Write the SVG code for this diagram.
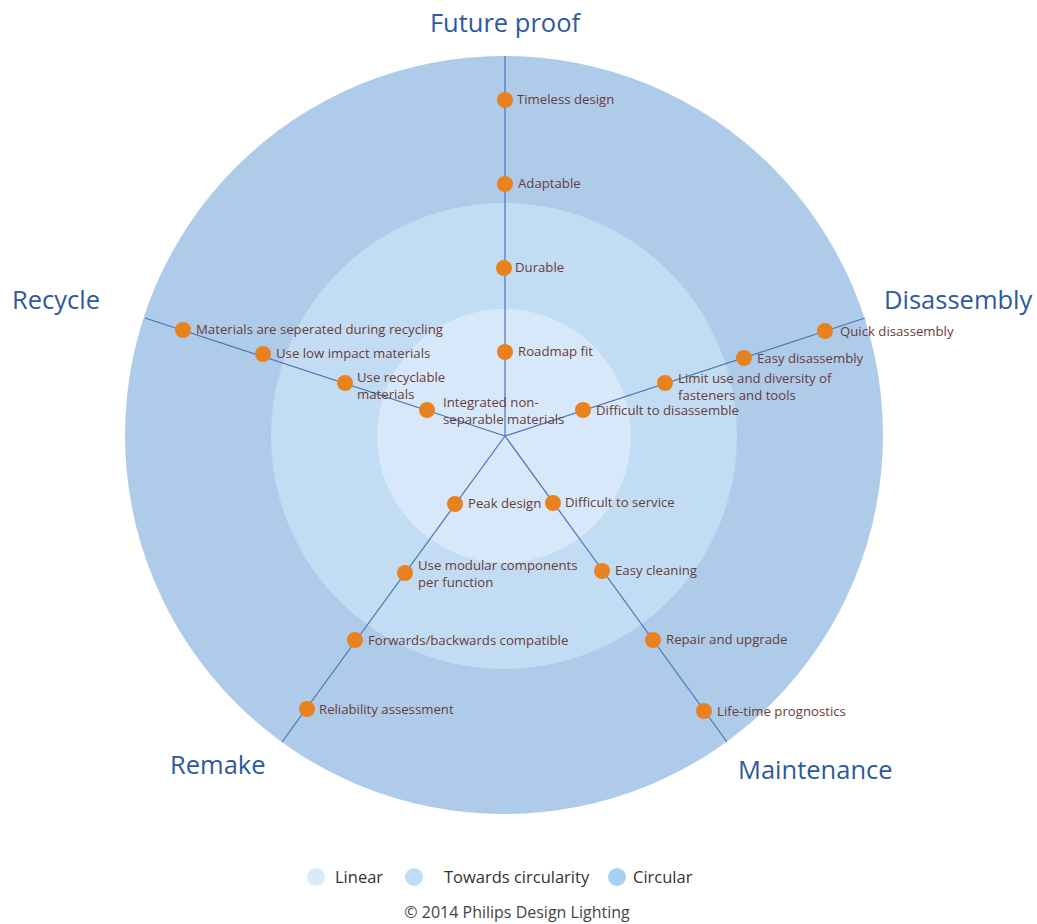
<svg xmlns="http://www.w3.org/2000/svg" width="1037" height="924" viewBox="0 0 1037 924">
<style>
.h{font-family:"Open Sans","Liberation Sans",sans-serif;font-size:25.5px;fill:#2E5A9C}
.t{font-family:"Open Sans","Liberation Sans",sans-serif;font-size:13.2px;fill:#6A3C3A}
.lg{font-family:"Open Sans","Liberation Sans",sans-serif;font-size:16.5px;fill:#333}
.d{fill:#E8821E}
.sp{stroke:#4A74B8;stroke-width:1.2;fill:none}
</style>
<rect width="1037" height="924" fill="#fff"/>
<g id="rings">
<circle cx="504" cy="435" r="379" fill="#AECBEA"/>
<circle cx="504" cy="436" r="233" fill="#C2DCF3"/>
<circle cx="504" cy="436" r="127" fill="#D6E8F9"/>
</g>
<g id="connectors">
<line class="sp" x1="505" y1="56" x2="505" y2="436"/>
<line class="sp" x1="145" y1="318" x2="505" y2="436"/>
<line class="sp" x1="865" y1="318" x2="505" y2="436"/>
<line class="sp" x1="282" y1="742" x2="505" y2="436"/>
<line class="sp" x1="727" y1="742" x2="505" y2="436"/>
</g>
<g id="headings">
<text class="h" x="505" y="32" text-anchor="middle">Future proof</text>
<text class="h" x="12" y="309">Recycle</text>
<text class="h" x="884" y="309">Disassembly</text>
<text class="h" x="170" y="774">Remake</text>
<text class="h" x="738" y="779">Maintenance</text>
</g>
<g id="future-proof">
<g id="n-timeless"><circle class="d" cx="505" cy="100" r="8"/><text class="t" x="517" y="104">Timeless design</text></g>
<g id="n-adaptable"><circle class="d" cx="505" cy="184" r="8"/><text class="t" x="518" y="188">Adaptable</text></g>
<g id="n-durable"><circle class="d" cx="504" cy="268" r="8"/><text class="t" x="515" y="272">Durable</text></g>
<g id="n-roadmap"><circle class="d" cx="505" cy="352" r="8"/><text class="t" x="518" y="356">Roadmap fit</text></g>
</g>
<g id="recycle">
<g id="n-separated"><circle class="d" cx="183" cy="330" r="8"/><text class="t" x="196" y="334">Materials are seperated during recycling</text></g>
<g id="n-lowimpact"><circle class="d" cx="263" cy="354" r="8"/><text class="t" x="276" y="358">Use low impact materials</text></g>
<g id="n-recyclable"><circle class="d" cx="345" cy="383" r="8"/><text class="t" x="357" y="382">Use recyclable<tspan x="357" dy="17">materials</tspan></text></g>
<g id="n-integrated"><circle class="d" cx="427" cy="410" r="8"/><text class="t" x="443" y="407">Integrated non-<tspan x="443" dy="17">separable materials</tspan></text></g>
</g>
<g id="disassembly">
<g id="n-difficult-dis"><circle class="d" cx="583" cy="410" r="8"/><text class="t" x="596" y="415">Difficult to disassemble</text></g>
<g id="n-limit"><circle class="d" cx="665" cy="383" r="8"/><text class="t" x="678" y="383">Limit use and diversity of<tspan x="678" dy="17">fasteners and tools</tspan></text></g>
<g id="n-easy-dis"><circle class="d" cx="744" cy="358" r="8"/><text class="t" x="757" y="363">Easy disassembly</text></g>
<g id="n-quick-dis"><circle class="d" cx="825" cy="331" r="8"/><text class="t" x="840" y="336">Quick disassembly</text></g>
</g>
<g id="remake">
<g id="n-peak"><circle class="d" cx="455" cy="504" r="8"/><text class="t" x="468" y="508">Peak design</text></g>
<g id="n-modular"><circle class="d" cx="405" cy="573" r="8"/><text class="t" x="418" y="570">Use modular components<tspan x="418" dy="17">per function</tspan></text></g>
<g id="n-compatible"><circle class="d" cx="355" cy="640" r="8"/><text class="t" x="368" y="645">Forwards/backwards compatible</text></g>
<g id="n-reliability"><circle class="d" cx="307" cy="709" r="8"/><text class="t" x="319" y="714">Reliability assessment</text></g>
</g>
<g id="maintenance">
<g id="n-difficult-srv"><circle class="d" cx="553" cy="503" r="8"/><text class="t" x="565" y="507">Difficult to service</text></g>
<g id="n-cleaning"><circle class="d" cx="602" cy="571" r="8"/><text class="t" x="615" y="575">Easy cleaning</text></g>
<g id="n-repair"><circle class="d" cx="653" cy="640" r="8"/><text class="t" x="666" y="644">Repair and upgrade</text></g>
<g id="n-lifetime"><circle class="d" cx="704" cy="711" r="8"/><text class="t" x="717" y="716">Life-time prognostics</text></g>
</g>
<g id="legend">
<circle cx="316" cy="877" r="9" fill="#D9EAF8"/><text class="lg" x="335" y="883">Linear</text>
<circle cx="414" cy="877" r="9" fill="#C1DDF5"/><text class="lg" x="444" y="883">Towards circularity</text>
<circle cx="617" cy="877" r="9" fill="#A6D1F2"/><text class="lg" x="633" y="883">Circular</text>
<text class="lg" x="517" y="918" text-anchor="middle" style="font-size:16px;fill:#444">© 2014 Philips Design Lighting</text>
</g>
</svg>
